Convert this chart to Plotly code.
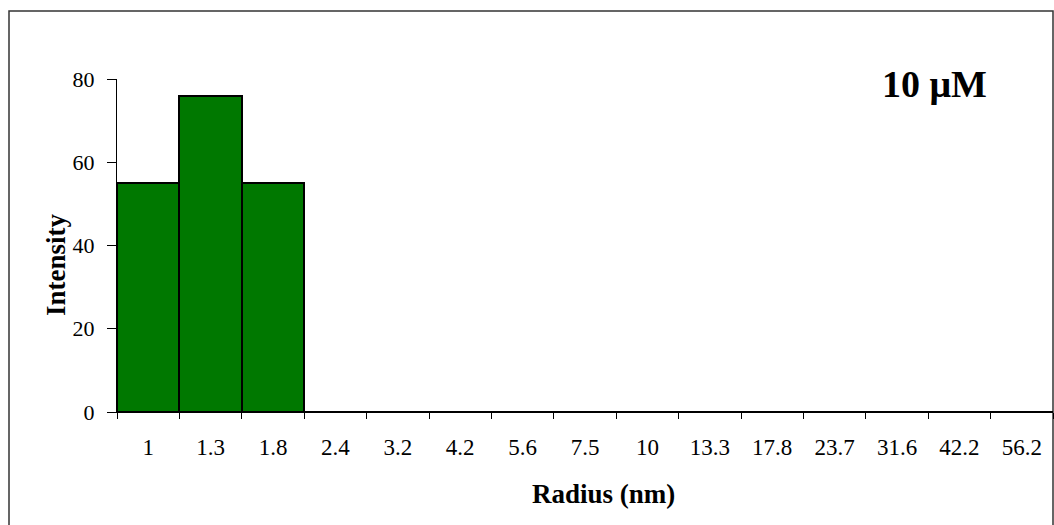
import plotly.graph_objects as go

# Size distribution: hydrodynamic radius bins (nm) and scattered intensity
radius_bins = ["1", "1.3", "1.8", "2.4", "3.2", "4.2", "5.6", "7.5", "10",
               "13.3", "17.8", "23.7", "31.6", "42.2", "56.2"]
intensity = [55, 76, 55, 0, 0, 0, 0, 0, 0, 0, 0, 0, 0, 0, 0]
y_ticks = [0, 20, 40, 60, 80]

W, H = 1054, 525
L, R, T, B = 117, 1, 79, 113
pw, ph = W - L - R, H - T - B

def px_x(x):
    return (x - L) / pw

def px_y(y):
    return (H - B - y) / ph

serif = "Liberation Serif"

fig = go.Figure(go.Bar(
    x=radius_bins,
    y=intensity,
    marker=dict(color="#007800", line=dict(color="black", width=2)),
    width=1.0,
))

fig.update_layout(
    width=W, height=H,
    margin=dict(l=L, r=R, t=T, b=B),
    paper_bgcolor="white", plot_bgcolor="white",
    bargap=0,
    showlegend=False,
    font=dict(family=serif, color="black", size=22),
    xaxis=dict(
        type="category",
        tickson="boundaries",
        ticks="outside", ticklen=6, tickcolor="black", tickwidth=1,
        showline=True, linecolor="black", linewidth=1,
        showgrid=False, zeroline=False,
        ticklabelstandoff=14,
        tickfont=dict(family=serif, size=23),
    ),
    yaxis=dict(
        range=[0, 80],
        tickvals=y_ticks,
        ticks="outside", ticklen=9, tickcolor="black", tickwidth=1,
        showline=True, linecolor="black", linewidth=1,
        showgrid=False, zeroline=False,
        ticklabelstandoff=8,
        tickfont=dict(family=serif, size=22),
    ),
    annotations=[
        dict(text="<b>10 μM</b>", xref="paper", yref="paper",
             x=px_x(934), y=px_y(84), xanchor="center", yanchor="middle",
             showarrow=False, font=dict(family=serif, size=38, color="black")),
        dict(text="<b>Radius (nm)</b>", xref="paper", yref="paper",
             x=px_x(603), y=px_y(494), xanchor="center", yanchor="middle",
             showarrow=False, font=dict(family=serif, size=27, color="black")),
        dict(text="<b>Intensity</b>", xref="paper", yref="paper",
             x=px_x(56), y=px_y(264), xanchor="center", yanchor="middle",
             textangle=-90,
             showarrow=False, font=dict(family=serif, size=27, color="black")),
    ],
    shapes=[dict(
        type="rect", xref="paper", yref="paper",
        x0=px_x(9), x1=px_x(1053), y0=px_y(530), y1=px_y(11),
        line=dict(color="#333333", width=1.5), fillcolor="rgba(0,0,0,0)",
        layer="below",
    )],
)

fig.write_html("out.html")
